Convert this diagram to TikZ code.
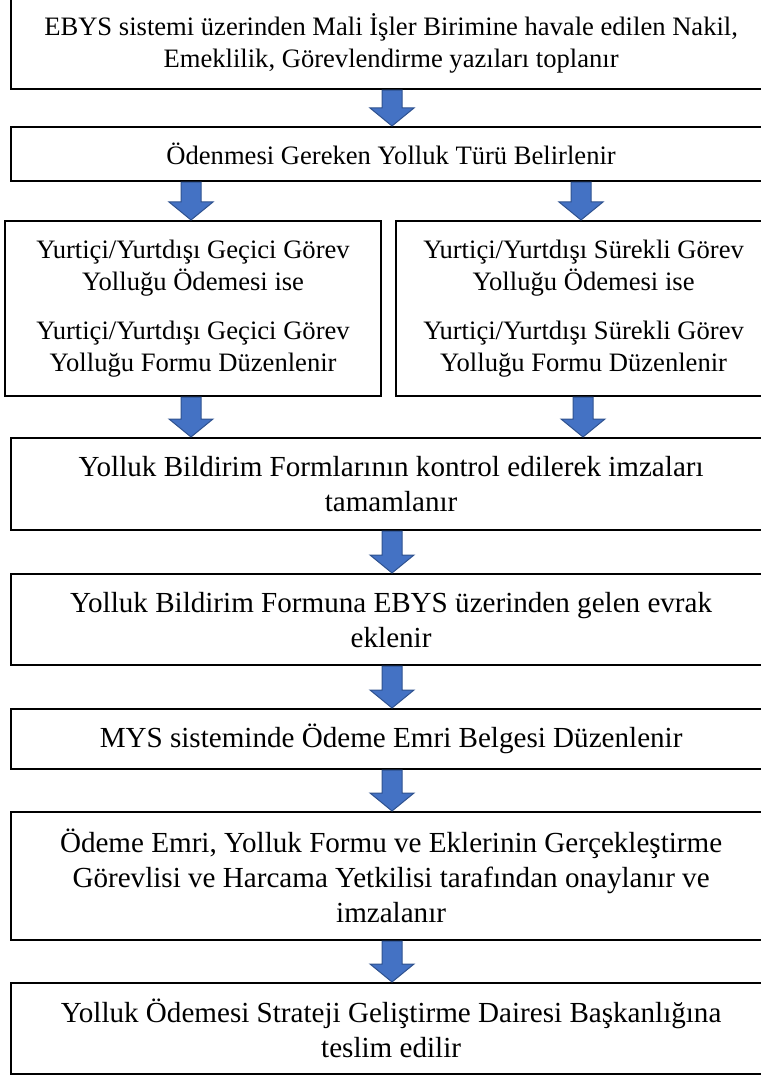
\documentclass[tikz,border=0pt]{standalone}
\usepackage{fontspec}
\setmainfont{Liberation Serif}
\usetikzlibrary{calc}
\definecolor{arrfill}{HTML}{4472C4}
\definecolor{arrline}{HTML}{2F528F}
\tikzset{
  box/.style={draw=black, line width=2.2pt, align=center, inner sep=0pt, anchor=north west},
  smalltext/.style={font=\fontsize{26.6}{32}\selectfont},
  bigtext/.style={font=\fontsize{29.1}{35}\selectfont},
  fatarr/.style={fill=arrfill, draw=arrline, line width=1pt, line join=miter}
}
% name, x1, y1, x2, y2, style, text
\newcommand\flowbox[7]{\node[box,#6,minimum width={#4-#2},minimum height={#5-#3}] (#1) at (#2,#3) {#7};}
% x, from node, to node
\newcommand\fatarrow[3]{\path let \p1=(#2.south), \p2=(#3.north) in [fatarr]
  (#1pt-10pt,\y1) -- (#1pt+10pt,\y1) -- (#1pt+10pt,\y2+18pt) -- (#1pt+22pt,\y2+18pt)
  -- (#1pt,\y2) -- (#1pt-22pt,\y2+18pt) -- (#1pt-10pt,\y2+18pt) -- cycle;}
\begin{document}
\begin{tikzpicture}[x=1pt,y=-1pt]
\useasboundingbox (0,0) rectangle (760,1075);
\flowbox{b1}{10}{-4}{770}{88}{smalltext}{EBYS sistemi üzerinden Mali İşler Birimine havale edilen Nakil,\\Emeklilik, Görevlendirme yazıları toplanır}
\flowbox{b2}{10}{126}{770}{180}{smalltext}{Ödenmesi Gereken Yolluk Türü Belirlenir}
\flowbox{b3l}{4}{220}{380}{395}{smalltext}{Yurtiçi/Yurtdışı Geçici Görev\\Yolluğu Ödemesi ise\\[17pt]Yurtiçi/Yurtdışı Geçici Görev\\Yolluğu Formu Düzenlenir}
\flowbox{b3r}{395}{220}{770}{395}{smalltext}{Yurtiçi/Yurtdışı Sürekli Görev\\Yolluğu Ödemesi ise\\[17pt]Yurtiçi/Yurtdışı Sürekli Görev\\Yolluğu Formu Düzenlenir}
\flowbox{b4}{10}{437}{770}{529}{bigtext}{Yolluk Bildirim Formlarının kontrol edilerek imzaları\\tamamlanır}
\flowbox{b5}{10}{573}{770}{664}{bigtext}{Yolluk Bildirim Formuna EBYS üzerinden gelen evrak\\eklenir}
\flowbox{b6}{10}{708}{770}{768}{bigtext}{MYS sisteminde Ödeme Emri Belgesi Düzenlenir}
\flowbox{b7}{10}{811}{770}{939}{bigtext}{Ödeme Emri, Yolluk Formu ve Eklerinin Gerçekleştirme\\Görevlisi ve Harcama Yetkilisi tarafından onaylanır ve\\imzalanır}
\flowbox{b8}{10}{982}{770}{1073}{bigtext}{Yolluk Ödemesi Strateji Geliştirme Dairesi Başkanlığına\\teslim edilir}
\fatarrow{392}{b1}{b2}
\fatarrow{191}{b2}{b3l}
\fatarrow{581}{b2}{b3r}
\fatarrow{191}{b3l}{b4}
\fatarrow{583}{b3r}{b4}
\fatarrow{392}{b4}{b5}
\fatarrow{392}{b5}{b6}
\fatarrow{392}{b6}{b7}
\fatarrow{392}{b7}{b8}
\end{tikzpicture}
\end{document}
